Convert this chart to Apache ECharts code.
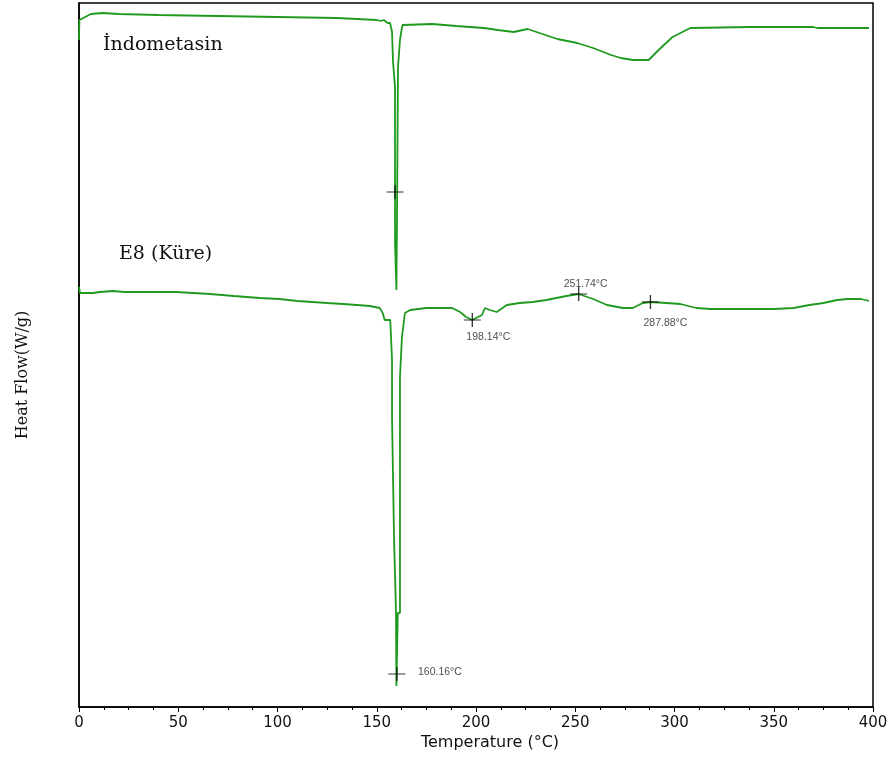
<!DOCTYPE html>
<html><head><meta charset="utf-8">
<script src="https://cdn.jsdelivr.net/npm/echarts@6/dist/echarts.min.js"></script>
<style>html,body{margin:0;padding:0;background:#fff}#c{width:892px;height:759px}</style>
</head><body><div id="c"></div>
<script>
// Temperature (°C) and heat flow (arbitrary W/g units)
const indoT  = [0,0.2,6,12,20,40,70,100,130,150,152,153.5,155.5,156.7,157.7,158.2,159.2,159.2,159.9,159.9,160.2,160.2,160.7,160.7,161.2,161.7,162.5,163,164,178,190,204,211,219,226,232,241,251,259,268,273,279,287,292,299,308,338,370,372,398];
const indoHF = [66.7,68.7,69.3,69.4,69.3,69.2,69.1,69.0,68.9,68.7,68.6,68.7,68.4,68.4,67.5,64.5,62.0,46.4,46.4,41.7,41.7,48.7,48.7,64.0,64.0,66.7,67.7,68.2,68.3,68.3,68.1,67.9,67.7,67.5,67.8,67.4,66.8,66.4,65.9,65.2,64.9,64.7,64.7,65.7,67.0,67.9,68.0,68.0,67.9,67.9];

const e8T  = [0,0.5,1.5,7,10.5,17,23,49,66,78,91,101,110,125,133,140,146.5,151.5,153,154,155.5,156.8,157.7,157.7,158.7,158.7,159.7,159.7,159.9,160.5,160.6,161.7,161.7,162.7,162.7,163.2,164.2,166.8,175,188,192,195,198.1,203,204.5,207,210.5,215.5,222,228.5,235.5,245.5,251.7,259,266,274,279,284,287.9,296,303,311,318,350,360,368,375,382,387,394,398];
const e8HF = [42.0,41.4,41.2,41.4,41.5,41.6,41.5,41.5,41.3,41.1,40.9,40.8,40.6,40.4,40.3,40.2,40.1,39.9,39.4,38.7,38.7,38.7,34.7,28.9,28.9,17.0,17.0,9.4,2.1,2.1,9.4,9.4,33.0,33.0,37.0,37.0,39.4,39.7,39.9,39.9,39.5,39.0,38.7,39.2,39.9,39.7,39.5,40.2,40.4,40.5,40.7,41.1,41.3,40.8,40.2,39.9,39.9,40.4,40.5,40.4,40.3,39.9,39.8,39.8,39.9,40.2,40.4,40.7,40.8,40.8,40.6];

// annotated peaks
const peakT     = [198.14, 251.74, 287.88, 160.16];
const peakHF    = [38.7, 41.3, 40.5, 3.3];
const peakLabel = ['198.14°C', '251.74°C', '287.88°C', '160.16°C'];
const indoPeakT = [159.2];
const indoPeakHF = [51.5];

const xTicks = [0, 400, 50];
const seriesNames = ['İndometasin', 'E8 (Küre)'];

const green = '#1f9a1f';
const zip = (a, b) => a.map((v, i) => [v, b[i]]);
const labelOffsets = [[16, 17], [7, -10], [15, 21], [43, -2]];

const chart = echarts.init(document.getElementById('c'));
chart.setOption({
  animation: false,
  backgroundColor: '#fff',
  grid: { left: 79, right: 19, top: 3, bottom: 52, show: true, borderColor: '#000', borderWidth: 1.5, backgroundColor: 'transparent' },
  xAxis: {
    type: 'value', min: xTicks[0], max: xTicks[1], interval: xTicks[2],
    axisLine: { lineStyle: { color: '#000', width: 1.5 } },
    axisTick: { length: 5, lineStyle: { color: '#000' } },
    minorTick: { show: true, splitNumber: 4, length: 3, lineStyle: { color: '#000' } },
    splitLine: { show: false },
    axisLabel: { color: '#111', fontFamily: 'DejaVu Sans', fontSize: 15, margin: 9 }
  },
  yAxis: {
    type: 'value', min: 0, max: 70.4,
    axisLine: { show: true, lineStyle: { color: '#000', width: 1.5 } },
    axisTick: { show: false }, axisLabel: { show: false }, splitLine: { show: false }
  },
  graphic: [
    { type: 'text', x: 490, y: 743, style: { text: 'Temperature (°C)', font: '16px "DejaVu Sans"', fill: '#111', align: 'center', verticalAlign: 'middle' } },
    { type: 'text', x: 23, y: 375, rotation: Math.PI / 2, style: { text: 'Heat Flow(W/g)', font: '16px "DejaVu Serif"', fill: '#111', align: 'center', verticalAlign: 'middle' } },
    { type: 'text', x: 103, y: 45, style: { text: seriesNames[0], font: '19px "DejaVu Serif"', fill: '#111', verticalAlign: 'middle' } },
    { type: 'text', x: 119, y: 254, style: { text: seriesNames[1], font: '19px "DejaVu Serif"', fill: '#111', verticalAlign: 'middle' } }
  ],
  series: [
    { name: seriesNames[0], type: 'line', data: zip(indoT, indoHF), showSymbol: false, lineStyle: { color: green, width: 1.8 }, z: 3 },
    { name: seriesNames[1], type: 'line', data: zip(e8T, e8HF), showSymbol: false, lineStyle: { color: green, width: 1.8 }, z: 3 },
    {
      type: 'scatter', z: 5,
      symbol: 'path://M0,7L16,7M8,0L8,14', symbolSize: [17, 14],
      itemStyle: { color: 'none', borderColor: '#000', borderWidth: 1.2 },
      data: peakT.map((t, i) => ({
        value: [t, peakHF[i]],
        label: { show: true, position: 'inside', offset: labelOffsets[i], formatter: peakLabel[i], color: '#222', fontFamily: 'Liberation Sans', fontSize: 10.5 }
      }))
    },
    {
      type: 'scatter', z: 5,
      symbol: 'path://M0,7L16,7M8,0L8,14', symbolSize: [17, 14],
      itemStyle: { color: 'none', borderColor: '#000', borderWidth: 1.2 },
      data: zip(indoPeakT, indoPeakHF)
    }
  ]
});
</script></body></html>
